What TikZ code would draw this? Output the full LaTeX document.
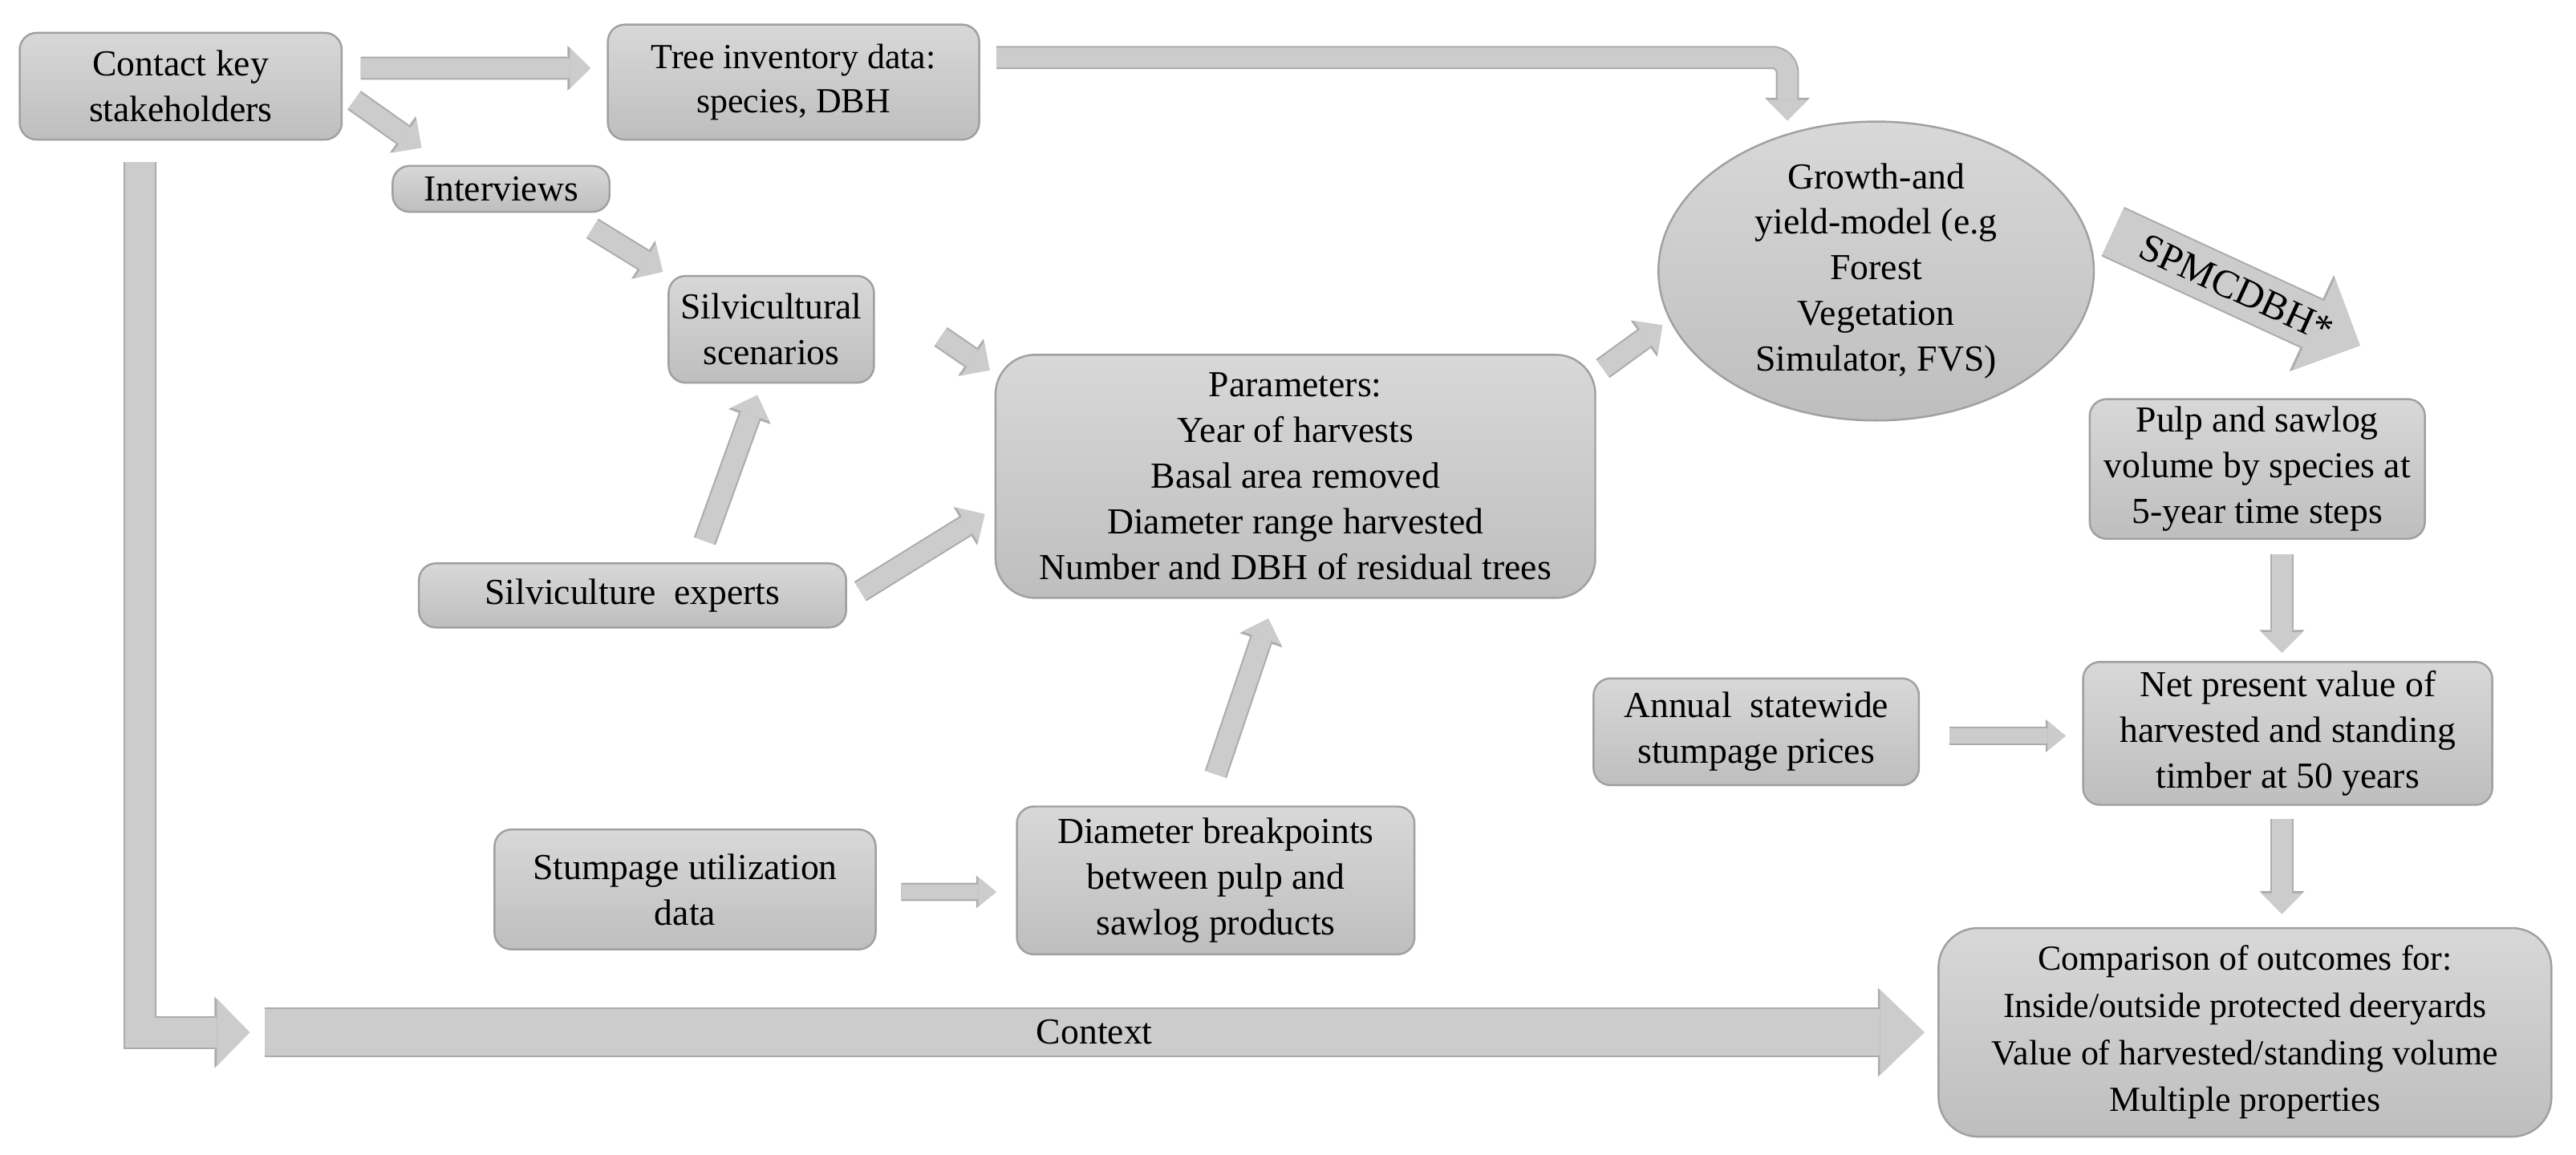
\documentclass[tikz,border=0pt]{standalone}
\usepackage{fontspec}
\setmainfont{Liberation Serif}
\usetikzlibrary{shapes.geometric, arrows.meta}
\definecolor{boxtop}{RGB}{216,216,216}
\definecolor{boxbot}{RGB}{190,190,190}
\definecolor{boxline}{RGB}{160,160,160}
\definecolor{arwfill}{RGB}{204,204,204}
\definecolor{arwline}{RGB}{172,172,172}

\begin{document}
\begin{tikzpicture}[
  x=0.02048cm, y=-0.02048cm,
  font=\fontsize{13}{16.2}\selectfont,
  box/.style={rectangle, rounded corners=6pt, draw=boxline, line width=0.7pt,
              top color=boxtop, bottom color=boxbot, align=center, inner sep=0pt},
  bigbox/.style={box, rounded corners=14pt},
  oval/.style={ellipse, draw=boxline, line width=0.7pt, top color=boxtop,
               bottom color=boxbot, align=center, inner xsep=0pt, inner ysep=-1.5pt},
  blk/.style n args={5}{draw=arwfill, line width=#1,
               -{Triangle[length=#3, width=#2, line width=0pt]},
               preaction={draw=arwline, line width=#1+1.2pt,
                          -{Triangle[length=#5, width=#4, line width=0pt]}}},
  arr/.style={blk={0.246cm}{0.512cm}{0.256cm}{0.56cm}{0.285cm}},
  slim/.style={blk={0.184cm}{0.369cm}{0.225cm}{0.41cm}{0.25cm}},
  fat/.style={blk={0.369cm}{0.84cm}{0.41cm}{0.89cm}{0.44cm}},
  ctx/.style={blk={0.573cm}{1.065cm}{0.553cm}{1.11cm}{0.58cm}},
  spm/.style={blk={0.635cm}{1.27cm}{0.635cm}{1.32cm}{0.665cm}},
]
\useasboundingbox (0,0) rectangle (1568,703);
\node (contact) [box, minimum width=4.014cm, minimum height=1.331cm] at (110,52.5)
  {Contact key\\stakeholders};
\node (tree)    [box, minimum width=4.628cm, minimum height=1.434cm,
                 font=\fontsize{12.5}{15.7}\selectfont] at (483,50)
  {Tree inventory data:\\species, DBH};
\node (interv)  [box, minimum width=2.703cm, minimum height=0.573cm] at (305,115)
  {Interviews};
\node (scen)    [box, minimum width=2.56cm, minimum height=1.331cm] at (469.5,200.5)
  {Silvicultural\\scenarios};
\node (params)  [bigbox, minimum width=7.475cm, minimum height=3.031cm] at (788.5,290)
  {Parameters:\\Year of harvests\\Basal area removed\\Diameter range harvested\\
   Number and DBH of residual trees};
\node (experts) [box, minimum width=5.325cm, minimum height=0.799cm] at (385,362.5)
  {Silviculture\ \ experts};
\node (growth)  [oval, minimum width=5.427cm, minimum height=3.727cm] at (1142,165)
  {Growth-and\\yield-model (e.g\\Forest\\Vegetation\\Simulator, FVS)};
\node (pulp)    [box, minimum width=4.178cm, minimum height=1.741cm] at (1374,285.5)
  {Pulp and sawlog\\volume by species at\\5-year time steps};
\node (annual)  [box, minimum width=4.055cm, minimum height=1.331cm] at (1069,445.5)
  {Annual\ \ statewide\\stumpage prices};
\node (npv)     [box, minimum width=5.1cm, minimum height=1.782cm] at (1392.5,446.5)
  {Net present value of\\harvested and standing\\timber at 50 years};
\node (util)    [box, minimum width=4.751cm, minimum height=1.495cm] at (417,541.5)
  {Stumpage utilization\\data};
\node (brk)     [box, minimum width=4.956cm, minimum height=1.843cm] at (740,536)
  {Diameter breakpoints\\between pulp and\\sawlog products};
\node (cmp)     [bigbox, minimum width=7.639cm, minimum height=2.601cm,
                 font=\fontsize{12.5}{16.7}\selectfont] at (1366.5,628.5)
  {Comparison of outcomes for:\\Inside/outside protected deeryards\\
   Value of harvested/standing volume\\Multiple properties};
\coordinate (ctxtail) at (161,628.5);
% block arrows
\draw [arr] ([shift={(11,-11)}]contact.east) -- ([shift={(-10,-8.5)}]tree.west);
\draw [arr] ([shift={(7,8.5)}]contact.east) -- ([shift={(-48.5,-10.5)}]interv.north);
\draw [arr] ([shift={(-11,9.5)}]interv.south east) -- ([shift={(-3,-2)}]scen.north west);
\draw [arr] ([shift={(40,4.5)}]scen.east) -- ([shift={(-3,10)}]params.north west);
\draw [arr] ([shift={(44,-13)}]experts.north) -- ([shift={(-8.5,7)}]scen.south);
\draw [arr] ([shift={(8,-2.5)}]experts.east) -- ([shift={(-6,23)}]params.west);
\draw [arr] ([shift={(0,-19)}]brk.north) -- ([shift={(-16.5,12)}]params.south);
\draw [slim] ([shift={(15,1.5)}]util.east) -- ([shift={(-12,7)}]brk.west);
\draw [arr] ([shift={(4,9)}]params.north east) -- ([shift={(3,33)}]growth.west);
\draw [arr, rounded corners=0.19cm] ([shift={(10,-15)}]tree.east)
      -| ([shift={(-54,0)}]growth.north);
\draw [spm] ([shift={(11,-24)}]growth.east)
      -- node[sloped, font=\fontsize{14}{16}\selectfont]{SPMCDBH*}
      ([shift={(62.5,-32)}]pulp.north);
\draw [arr] ([shift={(15,9)}]pulp.south) -- ([shift={(-3.5,-5)}]npv.north);
\draw [slim] ([shift={(18,2.5)}]annual.east) -- ([shift={(-10,1.5)}]npv.west);
\draw [arr] ([shift={(-3.5,8)}]npv.south) -- ([shift={(22.5,-8)}]cmp.north);
% context rail along the bottom
\draw [fat] ([shift={(-25,13)}]contact.south) |- ([shift={(-9,0)}]ctxtail);
\draw [ctx] (ctxtail) -- node{Context} ([shift={(-8,0)}]cmp.west);
\end{tikzpicture}
\end{document}
